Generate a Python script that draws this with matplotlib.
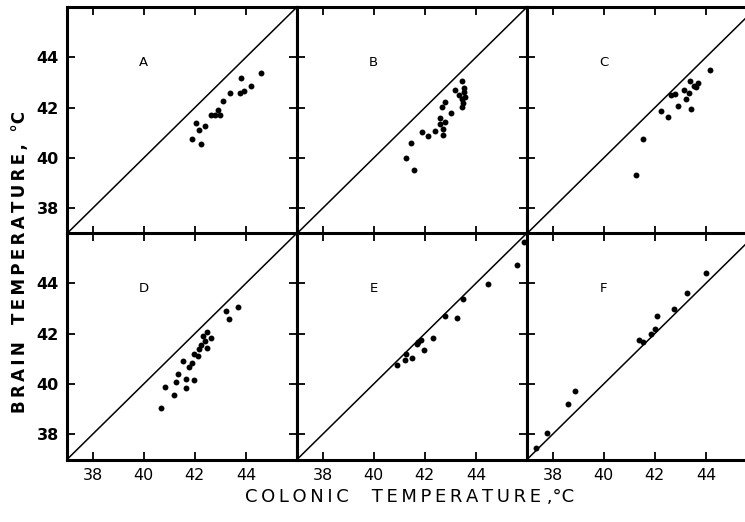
import matplotlib
matplotlib.use("Agg")
import matplotlib.pyplot as plt

# ---- data (colonic temperature x, brain temperature y), degC ----
a_x = [41.88, 42.06, 42.17, 42.26, 42.40, 42.63, 42.80, 42.89, 42.98, 43.12, 43.39, 43.77, 43.79, 43.94, 44.21, 44.59]
a_y = [40.75, 41.40, 41.12, 40.57, 41.29, 41.71, 41.71, 41.90, 41.71, 42.27, 42.60, 42.58, 43.17, 42.65, 42.87, 43.37]

b_x = [41.25, 41.45, 41.56, 41.89, 42.14, 42.40, 42.59, 42.60, 42.71, 42.71, 42.80, 42.67, 42.78, 43.03, 43.17, 43.32, 43.44, 43.54, 43.55, 43.44, 43.58, 43.51, 43.47]
b_y = [39.99, 40.59, 39.53, 41.04, 40.88, 41.08, 41.58, 41.36, 41.14, 40.91, 41.43, 42.04, 42.24, 41.78, 42.72, 42.50, 43.05, 42.79, 42.63, 42.33, 42.42, 42.20, 42.04]

c_x = [41.26, 41.52, 42.23, 42.51, 42.62, 42.81, 42.89, 43.15, 43.23, 43.33, 43.41, 43.37, 43.52, 43.61, 43.70, 44.18]
c_y = [39.33, 40.76, 41.88, 41.61, 42.49, 42.55, 42.07, 42.71, 42.33, 42.58, 41.94, 43.07, 42.88, 42.82, 42.98, 43.50]

d_x = [40.66, 40.84, 41.18, 41.26, 41.36, 41.55, 41.64, 41.67, 41.76, 41.91, 41.95, 41.97, 42.14, 42.18, 42.24, 42.33, 42.39, 42.49, 42.49, 42.63, 43.22, 43.32, 43.68]
d_y = [39.05, 39.87, 39.55, 40.07, 40.41, 40.93, 39.84, 40.21, 40.69, 40.85, 40.16, 41.21, 41.13, 41.39, 41.56, 41.89, 41.72, 42.05, 41.45, 41.83, 42.92, 42.59, 43.05]

e_x = [40.93, 41.24, 41.26, 41.49, 41.69, 41.75, 41.87, 41.96, 42.33, 42.78, 43.26, 43.49, 44.48, 45.62, 45.87]
e_y = [40.77, 40.96, 41.20, 41.03, 41.60, 41.67, 41.73, 41.36, 41.84, 42.71, 42.61, 43.36, 43.99, 44.73, 45.64]

f_x = [37.36, 37.77, 38.62, 38.87, 41.40, 41.54, 41.84, 41.99, 42.09, 42.74, 43.27, 44.01]
f_y = [37.47, 38.07, 39.19, 39.73, 41.73, 41.68, 42.00, 42.20, 42.72, 42.99, 43.63, 44.40]

panel_labels = ["A", "B", "C", "D", "E", "F"]
ticks = [38, 40, 42, 44]
lims = (37, 46)

series = [(a_x, a_y), (b_x, b_y), (c_x, c_y), (d_x, d_y), (e_x, e_y), (f_x, f_y)]

fig = plt.figure(figsize=(7.45, 5.22), dpi=100)
W, H = 745.0, 522.0
left0, pw = 67.0, 230.0
tops = [7.0, 233.0]
ph = 226.5

for i, (xs, ys) in enumerate(series):
    r, c = divmod(i, 3)
    x0 = left0 + c * pw
    y_top = tops[r]
    ax = fig.add_axes([x0 / W, 1 - (y_top + ph) / H, pw / W, ph / H])
    ax.set_xlim(*lims)
    ax.set_ylim(*lims)
    ax.plot(lims, lims, color="black", lw=1.1, zorder=2)
    ax.scatter(xs, ys, s=18, color="black", zorder=3, linewidths=0)
    ax.text(40.0, 43.8, panel_labels[i], fontsize=9.5, ha="center", va="center")
    ax.set_xticks(ticks)
    ax.set_yticks(ticks)
    ax.tick_params(direction="in", length=5.5, width=1.3, top=True, right=True,
                   labelsize=11.5, pad=6)
    if r == 0:
        ax.tick_params(labelbottom=False)
    if c != 0:
        ax.tick_params(labelleft=False)
    else:
        for lab in ax.get_yticklabels():
            lab.set_fontweight("bold")
    for sp in ax.spines.values():
        sp.set_linewidth(2.2)

sp = "\u2009"
xl = sp.join("COLONIC") + "    " + sp.join("TEMPERATURE") + " ,°C"
yl = sp.join("BRAIN") + "   " + sp.join("TEMPERATURE,") + "  °C"
fig.text(410 / W, 1 - 497 / H, xl, fontsize=13, ha="center", va="center")
fig.text(20 / W, 1 - 262 / H, yl, fontsize=12, fontweight="bold", rotation=90,
         ha="center", va="center")

fig.savefig("out.png", dpi=100)
